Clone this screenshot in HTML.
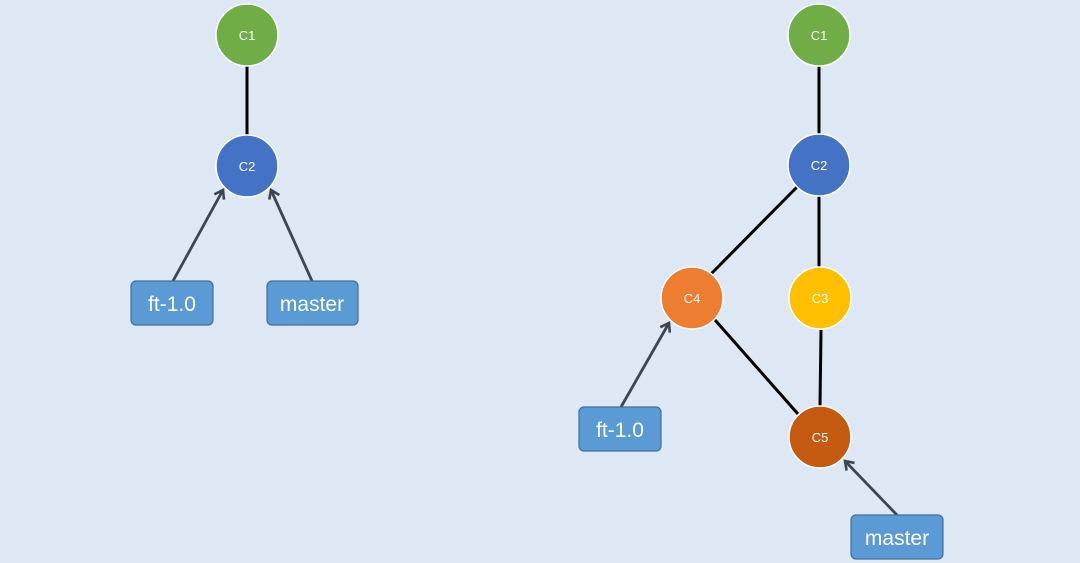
<!DOCTYPE html>
<html><head><style>
html,body{margin:0;padding:0;background:#dde8f4;}
svg{display:block;}
text{font-family:"Liberation Sans",sans-serif;fill:#fff;}
</style></head><body>
<svg width="1080" height="563" viewBox="0 0 1080 563">
<defs><marker id="a" markerWidth="14" markerHeight="14" refX="10" refY="7" orient="auto" markerUnits="userSpaceOnUse"><path d="M2,1.5 L10,7 L2,12.5" fill="none" stroke="#3d4650" stroke-width="2.6"/></marker></defs>
<rect width="1080" height="563" fill="#dde8f4"/>
<g stroke="#000" stroke-width="3">
<line x1="247" y1="65" x2="247" y2="135"/>
<line x1="819" y1="65" x2="819" y2="134"/>
<line x1="798" y1="186" x2="711" y2="274"/>
<line x1="819" y1="196" x2="819" y2="267"/>
<line x1="715" y1="320" x2="798" y2="414"/>
<line x1="821" y1="330" x2="820" y2="406"/>
</g>
<g stroke="#3d4650" stroke-width="2.8" marker-end="url(#a)">
<line x1="173" y1="281" x2="223" y2="190"/>
<line x1="312" y1="281" x2="271" y2="190"/>
<line x1="621" y1="407" x2="669" y2="323"/>
<line x1="897" y1="515" x2="845" y2="461"/>
</g>
<g stroke="#fff" stroke-width="1.5">
<circle cx="247" cy="35" r="31" fill="#70ad47"/>
<circle cx="247" cy="166" r="31" fill="#4472c4"/>
<circle cx="819" cy="35" r="31" fill="#70ad47"/>
<circle cx="819" cy="165" r="31" fill="#4472c4"/>
<circle cx="692" cy="298" r="31" fill="#ed7d31"/>
<circle cx="820" cy="298" r="31" fill="#ffc000"/>
<circle cx="820" cy="437" r="31" fill="#c55a11"/>
</g>
<g font-size="13" text-anchor="middle">
<text x="247" y="40">C1</text><text x="247" y="171">C2</text>
<text x="819" y="40">C1</text><text x="819" y="170">C2</text>
<text x="692" y="303">C4</text><text x="820" y="303">C3</text><text x="820" y="442">C5</text>
</g>
<g fill="#5b9bd5" stroke="#41719c" stroke-width="1.2">
<rect x="131" y="281" width="82" height="44" rx="5"/>
<rect x="267" y="281" width="91" height="44" rx="5"/>
<rect x="579" y="407" width="82" height="44" rx="5"/>
<rect x="851" y="515" width="92" height="44" rx="5"/>
</g>
<g font-size="21" text-anchor="middle">
<text x="172" y="311">ft-1.0</text><text x="312" y="311">master</text>
<text x="620" y="437">ft-1.0</text><text x="897" y="545">master</text>
</g>
</svg>
</body></html>
